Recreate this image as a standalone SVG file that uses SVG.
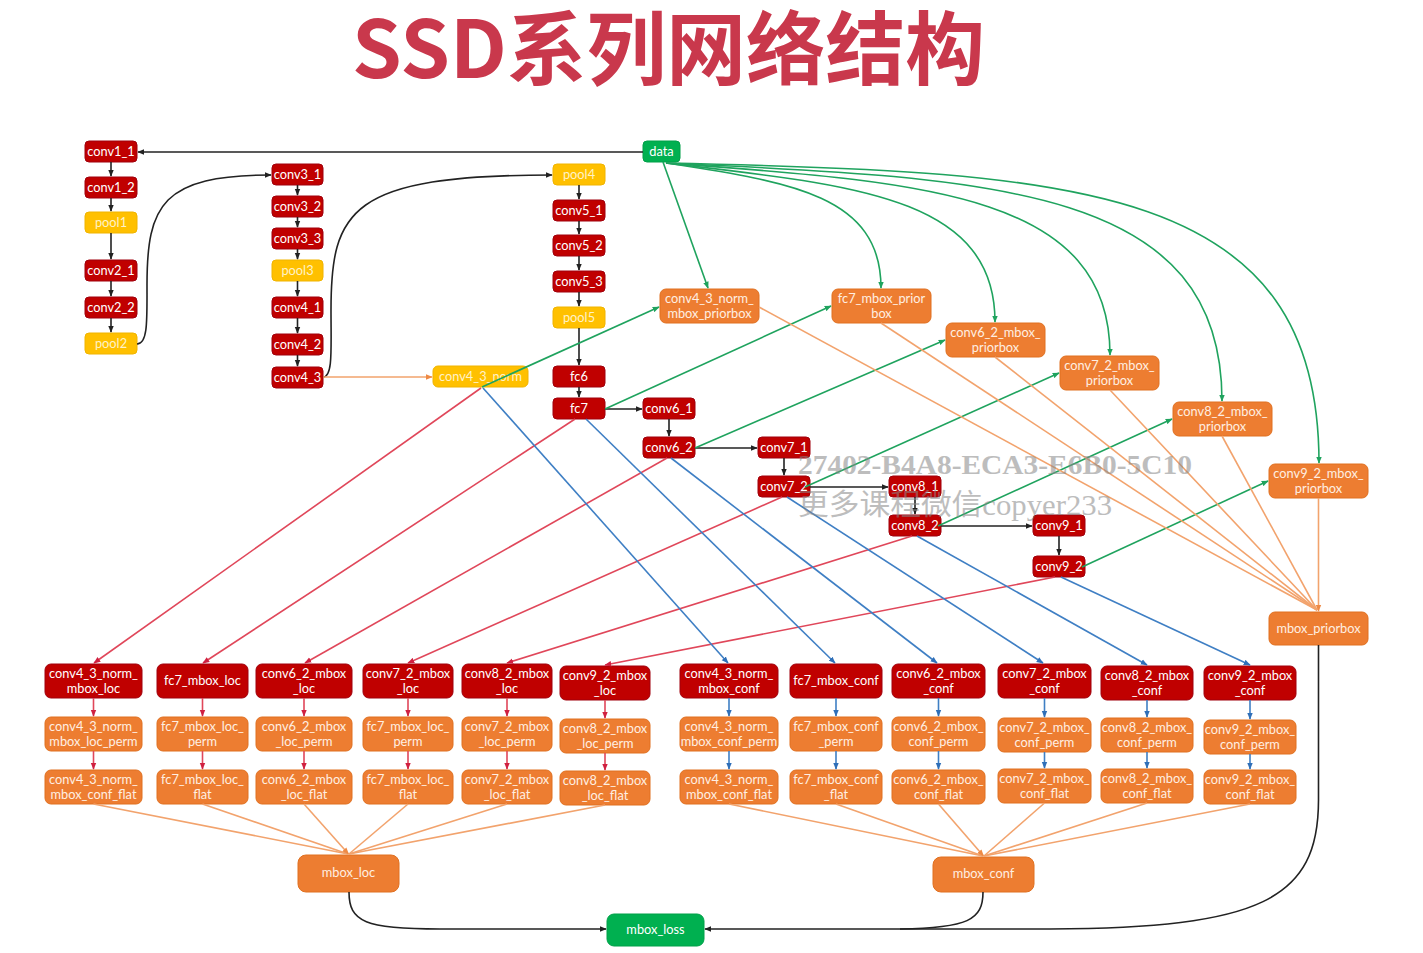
<svg xmlns="http://www.w3.org/2000/svg" width="1423" height="953" viewBox="0 0 1423 953">
<style>
text{font-family:Lato,"Open Sans","Liberation Sans",sans-serif;font-size:12.8px;text-anchor:middle;fill:#fff}
.r rect{fill:#C00000;stroke:#A0000C;stroke-width:1}
.y rect{fill:#FFC000;stroke:#F0B400;stroke-width:1}
.y text{fill:#FFF2C8}
.o rect{fill:#ED7D31;stroke:#E07020;stroke-width:1}
.o text{fill:#FFEFE2}
.g rect{fill:#00B050;stroke:#00A048;stroke-width:1}
#connectors path{fill:none;stroke-width:1.6}
.k{stroke:#222}
.gr{stroke:#1FA35E}
.rd{stroke:#E0475A}
.bl{stroke:#3F7FC4}
.or{stroke:#F2A36D}
</style>
<defs>
<marker id="ak" viewBox="0 0 10 10" refX="9" refY="5" markerWidth="7" markerHeight="7" markerUnits="userSpaceOnUse" orient="auto"><path d="M0,1 L10,5 L0,9 z" fill="#222"/></marker>
<marker id="ag" viewBox="0 0 10 10" refX="9" refY="5" markerWidth="7" markerHeight="7" markerUnits="userSpaceOnUse" orient="auto"><path d="M0,1 L10,5 L0,9 z" fill="#1FA35E"/></marker>
<marker id="ar" viewBox="0 0 10 10" refX="9" refY="5" markerWidth="7" markerHeight="7" markerUnits="userSpaceOnUse" orient="auto"><path d="M0,1 L10,5 L0,9 z" fill="#D02040"/></marker>
<marker id="ab" viewBox="0 0 10 10" refX="9" refY="5" markerWidth="7" markerHeight="7" markerUnits="userSpaceOnUse" orient="auto"><path d="M0,1 L10,5 L0,9 z" fill="#2F6FB8"/></marker>
<marker id="ao" viewBox="0 0 10 10" refX="9" refY="5" markerWidth="7" markerHeight="7" markerUnits="userSpaceOnUse" orient="auto"><path d="M0,1 L10,5 L0,9 z" fill="#EE8A45"/></marker>
</defs>
<rect width="1423" height="953" fill="#fff"/>
<text x="352" y="78" textLength="633" lengthAdjust="spacingAndGlyphs" style="font-family:'Noto Sans CJK SC','Noto Sans',sans-serif;font-size:80px;font-weight:bold;fill:#C9384C;text-anchor:start">SSD系列网络结构</text>

<!-- backbone column 1 -->
<g id="conv1_1" class="r"><rect x="85" y="141" width="52" height="21" rx="4"/><text x="111" y="156">conv1_1</text></g>
<g id="conv1_2" class="r"><rect x="85" y="177" width="52" height="21" rx="4"/><text x="111" y="192">conv1_2</text></g>
<g id="pool1" class="y"><rect x="85" y="212" width="52" height="21" rx="4"/><text x="111" y="227">pool1</text></g>
<g id="conv2_1" class="r"><rect x="85" y="260" width="52" height="21" rx="4"/><text x="111" y="275">conv2_1</text></g>
<g id="conv2_2" class="r"><rect x="85" y="297" width="52" height="21" rx="4"/><text x="111" y="312">conv2_2</text></g>
<g id="pool2" class="y"><rect x="85" y="333" width="52" height="21" rx="4"/><text x="111" y="348">pool2</text></g>
<!-- column 2 -->
<g id="conv3_1" class="r"><rect x="272" y="164" width="51" height="21" rx="4"/><text x="297.5" y="179">conv3_1</text></g>
<g id="conv3_2" class="r"><rect x="272" y="196" width="51" height="21" rx="4"/><text x="297.5" y="211">conv3_2</text></g>
<g id="conv3_3" class="r"><rect x="272" y="228" width="51" height="21" rx="4"/><text x="297.5" y="243">conv3_3</text></g>
<g id="pool3" class="y"><rect x="272" y="260" width="51" height="21" rx="4"/><text x="297.5" y="275">pool3</text></g>
<g id="conv4_1" class="r"><rect x="272" y="297" width="51" height="21" rx="4"/><text x="297.5" y="312">conv4_1</text></g>
<g id="conv4_2" class="r"><rect x="272" y="334" width="51" height="21" rx="4"/><text x="297.5" y="349">conv4_2</text></g>
<g id="conv4_3" class="r"><rect x="272" y="367" width="51" height="21" rx="4"/><text x="297.5" y="382">conv4_3</text></g>
<!-- column 3 -->
<g id="pool4" class="y"><rect x="553" y="164" width="52" height="21" rx="4"/><text x="579" y="179">pool4</text></g>
<g id="conv5_1" class="r"><rect x="553" y="200" width="52" height="21" rx="4"/><text x="579" y="215">conv5_1</text></g>
<g id="conv5_2" class="r"><rect x="553" y="235" width="52" height="21" rx="4"/><text x="579" y="250">conv5_2</text></g>
<g id="conv5_3" class="r"><rect x="553" y="271" width="52" height="21" rx="4"/><text x="579" y="286">conv5_3</text></g>
<g id="pool5" class="y"><rect x="553" y="307" width="52" height="21" rx="4"/><text x="579" y="322">pool5</text></g>
<g id="fc6" class="r"><rect x="553" y="366" width="52" height="21" rx="4"/><text x="579" y="381">fc6</text></g>
<g id="fc7" class="r"><rect x="553" y="398" width="52" height="21" rx="4"/><text x="579" y="413">fc7</text></g>
<g id="data" class="g"><rect x="643" y="141" width="37" height="21" rx="4"/><text x="661.5" y="156">data</text></g>
<g id="conv4_3_norm" class="y"><rect x="433" y="366" width="95" height="21" rx="5"/><text x="480.5" y="381">conv4_3_norm</text></g>
<g id="conv6_1" class="r"><rect x="643" y="398" width="52" height="21" rx="4"/><text x="669" y="413">conv6_1</text></g>
<g id="conv6_2" class="r"><rect x="643" y="437" width="52" height="21" rx="4"/><text x="669" y="452">conv6_2</text></g>
<g id="conv7_1" class="r"><rect x="758" y="437" width="52" height="21" rx="4"/><text x="784" y="452">conv7_1</text></g>
<g id="conv7_2" class="r"><rect x="758" y="476" width="52" height="21" rx="4"/><text x="784" y="491">conv7_2</text></g>
<g id="conv8_1" class="r"><rect x="889" y="476" width="52" height="21" rx="4"/><text x="915" y="491">conv8_1</text></g>
<g id="conv8_2" class="r"><rect x="889" y="515" width="52" height="21" rx="4"/><text x="915" y="530">conv8_2</text></g>
<g id="conv9_1" class="r"><rect x="1033" y="515" width="52" height="21" rx="4"/><text x="1059" y="530">conv9_1</text></g>
<g id="conv9_2" class="r"><rect x="1033" y="556" width="52" height="21" rx="4"/><text x="1059" y="571">conv9_2</text></g>

<!-- priorbox nodes -->
<g id="conv4_3_norm_mbox_priorbox" class="o"><rect x="660" y="289" width="99" height="34" rx="6"/><text x="709.5" y="303">conv4_3_norm_</text><text x="709.5" y="318">mbox_priorbox</text></g>
<g id="fc7_mbox_priorbox" class="o"><rect x="832" y="289" width="99" height="34" rx="6"/><text x="881.5" y="303">fc7_mbox_prior</text><text x="881.5" y="318">box</text></g>
<g id="conv6_2_mbox_priorbox" class="o"><rect x="946" y="323" width="99" height="34" rx="6"/><text x="995.5" y="337">conv6_2_mbox_</text><text x="995.5" y="352">priorbox</text></g>
<g id="conv7_2_mbox_priorbox" class="o"><rect x="1060" y="356" width="99" height="34" rx="6"/><text x="1109.5" y="370">conv7_2_mbox_</text><text x="1109.5" y="385">priorbox</text></g>
<g id="conv8_2_mbox_priorbox" class="o"><rect x="1173" y="402" width="99" height="34" rx="6"/><text x="1222.5" y="416">conv8_2_mbox_</text><text x="1222.5" y="431">priorbox</text></g>
<g id="conv9_2_mbox_priorbox" class="o"><rect x="1269" y="464" width="99" height="34" rx="6"/><text x="1318.5" y="478">conv9_2_mbox_</text><text x="1318.5" y="493">priorbox</text></g>
<g id="mbox_priorbox" class="o"><rect x="1269" y="612" width="99" height="33" rx="6"/><text x="1318.5" y="633">mbox_priorbox</text></g>

<!-- loc heads -->
<g id="conv4_3_norm_mbox_loc" class="r"><rect x="45" y="664" width="97" height="34" rx="6"/><text x="93.5" y="678">conv4_3_norm_</text><text x="93.5" y="693">mbox_loc</text></g>
<g id="fc7_mbox_loc" class="r"><rect x="157" y="664" width="91" height="34" rx="6"/><text x="202.5" y="685">fc7_mbox_loc</text></g>
<g id="conv6_2_mbox_loc" class="r"><rect x="256" y="664" width="96" height="34" rx="6"/><text x="304" y="678">conv6_2_mbox</text><text x="304" y="693">_loc</text></g>
<g id="conv7_2_mbox_loc" class="r"><rect x="363" y="664" width="90" height="34" rx="6"/><text x="408" y="678">conv7_2_mbox</text><text x="408" y="693">_loc</text></g>
<g id="conv8_2_mbox_loc" class="r"><rect x="462" y="664" width="90" height="34" rx="6"/><text x="507" y="678">conv8_2_mbox</text><text x="507" y="693">_loc</text></g>
<g id="conv9_2_mbox_loc" class="r"><rect x="560" y="666" width="90" height="34" rx="6"/><text x="605" y="680">conv9_2_mbox</text><text x="605" y="695">_loc</text></g>
<g id="loc_perm_1" class="o"><rect x="45" y="717" width="97" height="34" rx="6"/><text x="93.5" y="731">conv4_3_norm_</text><text x="93.5" y="746">mbox_loc_perm</text></g>
<g id="loc_perm_2" class="o"><rect x="157" y="717" width="91" height="34" rx="6"/><text x="202.5" y="731">fc7_mbox_loc_</text><text x="202.5" y="746">perm</text></g>
<g id="loc_perm_3" class="o"><rect x="256" y="717" width="96" height="34" rx="6"/><text x="304" y="731">conv6_2_mbox</text><text x="304" y="746">_loc_perm</text></g>
<g id="loc_perm_4" class="o"><rect x="363" y="717" width="90" height="34" rx="6"/><text x="408" y="731">fc7_mbox_loc_</text><text x="408" y="746">perm</text></g>
<g id="loc_perm_5" class="o"><rect x="462" y="717" width="90" height="34" rx="6"/><text x="507" y="731">conv7_2_mbox</text><text x="507" y="746">_loc_perm</text></g>
<g id="loc_perm_6" class="o"><rect x="560" y="719" width="90" height="34" rx="6"/><text x="605" y="733">conv8_2_mbox</text><text x="605" y="748">_loc_perm</text></g>
<g id="loc_flat_1" class="o"><rect x="45" y="770" width="97" height="34" rx="6"/><text x="93.5" y="784">conv4_3_norm_</text><text x="93.5" y="799">mbox_conf_flat</text></g>
<g id="loc_flat_2" class="o"><rect x="157" y="770" width="91" height="34" rx="6"/><text x="202.5" y="784">fc7_mbox_loc_</text><text x="202.5" y="799">flat</text></g>
<g id="loc_flat_3" class="o"><rect x="256" y="770" width="96" height="34" rx="6"/><text x="304" y="784">conv6_2_mbox</text><text x="304" y="799">_loc_flat</text></g>
<g id="loc_flat_4" class="o"><rect x="363" y="770" width="90" height="34" rx="6"/><text x="408" y="784">fc7_mbox_loc_</text><text x="408" y="799">flat</text></g>
<g id="loc_flat_5" class="o"><rect x="462" y="770" width="90" height="34" rx="6"/><text x="507" y="784">conv7_2_mbox</text><text x="507" y="799">_loc_flat</text></g>
<g id="loc_flat_6" class="o"><rect x="560" y="771" width="90" height="34" rx="6"/><text x="605" y="785">conv8_2_mbox</text><text x="605" y="800">_loc_flat</text></g>

<!-- conf heads -->
<g id="conv4_3_norm_mbox_conf" class="r"><rect x="680" y="664" width="98" height="34" rx="6"/><text x="729" y="678">conv4_3_norm_</text><text x="729" y="693">mbox_conf</text></g>
<g id="fc7_mbox_conf" class="r"><rect x="790" y="664" width="92" height="34" rx="6"/><text x="836" y="685">fc7_mbox_conf</text></g>
<g id="conv6_2_mbox_conf" class="r"><rect x="892" y="664" width="93" height="34" rx="6"/><text x="938.5" y="678">conv6_2_mbox</text><text x="938.5" y="693">_conf</text></g>
<g id="conv7_2_mbox_conf" class="r"><rect x="998" y="664" width="93" height="34" rx="6"/><text x="1044.5" y="678">conv7_2_mbox</text><text x="1044.5" y="693">_conf</text></g>
<g id="conv8_2_mbox_conf" class="r"><rect x="1101" y="666" width="92" height="34" rx="6"/><text x="1147" y="680">conv8_2_mbox</text><text x="1147" y="695">_conf</text></g>
<g id="conv9_2_mbox_conf" class="r"><rect x="1204" y="666" width="92" height="34" rx="6"/><text x="1250" y="680">conv9_2_mbox</text><text x="1250" y="695">_conf</text></g>
<g id="conf_perm_1" class="o"><rect x="680" y="717" width="98" height="34" rx="6"/><text x="729" y="731">conv4_3_norm_</text><text x="729" y="746">mbox_conf_perm</text></g>
<g id="conf_perm_2" class="o"><rect x="790" y="717" width="92" height="34" rx="6"/><text x="836" y="731">fc7_mbox_conf</text><text x="836" y="746">_perm</text></g>
<g id="conf_perm_3" class="o"><rect x="892" y="717" width="93" height="34" rx="6"/><text x="938.5" y="731">conv6_2_mbox_</text><text x="938.5" y="746">conf_perm</text></g>
<g id="conf_perm_4" class="o"><rect x="998" y="718" width="93" height="34" rx="6"/><text x="1044.5" y="732">conv7_2_mbox_</text><text x="1044.5" y="747">conf_perm</text></g>
<g id="conf_perm_5" class="o"><rect x="1101" y="718" width="92" height="34" rx="6"/><text x="1147" y="732">conv8_2_mbox_</text><text x="1147" y="747">conf_perm</text></g>
<g id="conf_perm_6" class="o"><rect x="1204" y="720" width="92" height="34" rx="6"/><text x="1250" y="734">conv9_2_mbox_</text><text x="1250" y="749">conf_perm</text></g>
<g id="conf_flat_1" class="o"><rect x="680" y="770" width="98" height="34" rx="6"/><text x="729" y="784">conv4_3_norm_</text><text x="729" y="799">mbox_conf_flat</text></g>
<g id="conf_flat_2" class="o"><rect x="790" y="770" width="92" height="34" rx="6"/><text x="836" y="784">fc7_mbox_conf</text><text x="836" y="799">_flat</text></g>
<g id="conf_flat_3" class="o"><rect x="892" y="770" width="93" height="34" rx="6"/><text x="938.5" y="784">conv6_2_mbox_</text><text x="938.5" y="799">conf_flat</text></g>
<g id="conf_flat_4" class="o"><rect x="998" y="769" width="93" height="34" rx="6"/><text x="1044.5" y="783">conv7_2_mbox_</text><text x="1044.5" y="798">conf_flat</text></g>
<g id="conf_flat_5" class="o"><rect x="1101" y="769" width="92" height="34" rx="6"/><text x="1147" y="783">conv8_2_mbox_</text><text x="1147" y="798">conf_flat</text></g>
<g id="conf_flat_6" class="o"><rect x="1204" y="770" width="92" height="34" rx="6"/><text x="1250" y="784">conv9_2_mbox_</text><text x="1250" y="799">conf_flat</text></g>

<g id="mbox_loc" class="o"><rect x="298" y="855" width="101" height="37" rx="8"/><text x="348.5" y="877">mbox_loc</text></g>
<g id="mbox_conf" class="o"><rect x="933" y="857" width="101" height="35" rx="8"/><text x="983.5" y="878">mbox_conf</text></g>
<g id="mbox_loss" class="g"><rect x="607" y="914" width="97" height="32" rx="7"/><text x="655.5" y="934">mbox_loss</text></g>

<g id="connectors">
<path class="k" d="M643,152 L138,152" marker-end="url(#ak)"/>
<path class="k" d="M111,162 V176" marker-end="url(#ak)"/>
<path class="k" d="M111,198 V211" marker-end="url(#ak)"/>
<path class="k" d="M111,233 V259" marker-end="url(#ak)"/>
<path class="k" d="M111,281 V296" marker-end="url(#ak)"/>
<path class="k" d="M111,318 V332" marker-end="url(#ak)"/>
<path class="k" d="M137,344 C148,344 147,320 147,285 C147,205 162,175 271,175" marker-end="url(#ak)"/>
<path class="k" d="M297.5,185 V195" marker-end="url(#ak)"/>
<path class="k" d="M297.5,217 V227" marker-end="url(#ak)"/>
<path class="k" d="M297.5,249 V259" marker-end="url(#ak)"/>
<path class="k" d="M297.5,281 V296" marker-end="url(#ak)"/>
<path class="k" d="M297.5,318 V333" marker-end="url(#ak)"/>
<path class="k" d="M297.5,355 V366" marker-end="url(#ak)"/>
<path class="k" d="M323,377 C333,377 331,350 331,310 C331,210 350,175 552,175" marker-end="url(#ak)"/>
<path class="k" d="M579,185 V199" marker-end="url(#ak)"/>
<path class="k" d="M579,221 V234" marker-end="url(#ak)"/>
<path class="k" d="M579,256 V270" marker-end="url(#ak)"/>
<path class="k" d="M579,292 V306" marker-end="url(#ak)"/>
<path class="k" d="M579,328 V365" marker-end="url(#ak)"/>
<path class="k" d="M579,387 V397" marker-end="url(#ak)"/>
<path class="k" d="M605,409 H642" marker-end="url(#ak)"/>
<path class="k" d="M669,419 V436" marker-end="url(#ak)"/>
<path class="k" d="M695,448 H757" marker-end="url(#ak)"/>
<path class="k" d="M784,458 V475" marker-end="url(#ak)"/>
<path class="k" d="M810,487 H888" marker-end="url(#ak)"/>
<path class="k" d="M915,497 V514" marker-end="url(#ak)"/>
<path class="k" d="M941,526 H1032" marker-end="url(#ak)"/>
<path class="k" d="M1059,536 V555" marker-end="url(#ak)"/>
<path class="or" d="M323,377 H432" marker-end="url(#ao)"/>
<path class="gr" d="M663,162 L708,288" marker-end="url(#ag)"/>
<path class="gr" d="M666,163 C790,182 881,195 881,288" marker-end="url(#ag)"/>
<path class="gr" d="M666,163 C850,185 995,195 995,322" marker-end="url(#ag)"/>
<path class="gr" d="M666,163 C920,182 1110,192 1110,355" marker-end="url(#ag)"/>
<path class="gr" d="M666,163 C1000,178 1222,188 1222,401" marker-end="url(#ag)"/>
<path class="gr" d="M666,163 C1080,172 1319,184 1319,463" marker-end="url(#ag)"/>
<path class="gr" d="M482,387 L659,307" marker-end="url(#ag)"/>
<path class="gr" d="M605,409 L831,306" marker-end="url(#ag)"/>
<path class="gr" d="M695,448 L945,340" marker-end="url(#ag)"/>
<path class="gr" d="M805,487 L1059,373" marker-end="url(#ag)"/>
<path class="gr" d="M938,526 L1172,419" marker-end="url(#ag)"/>
<path class="gr" d="M1082,567 L1268,481" marker-end="url(#ag)"/>
<path class="or" d="M759,307 L1317,610"/>
<path class="or" d="M881,323 L1317,610"/>
<path class="or" d="M995,357 L1317,610"/>
<path class="or" d="M1110,390 L1317,610"/>
<path class="or" d="M1222,436 L1317,610"/>
<path class="or" d="M1318.5,498 V611" marker-end="url(#ao)"/>
<path class="rd" d="M481,388 L94,663" marker-end="url(#ar)"/>
<path class="rd" d="M575,419 L203,663" marker-end="url(#ar)"/>
<path class="rd" d="M667,458 L305,663" marker-end="url(#ar)"/>
<path class="rd" d="M782,497 L408,663" marker-end="url(#ar)"/>
<path class="rd" d="M912,536 L507,663" marker-end="url(#ar)"/>
<path class="rd" d="M1055,577 L605,665" marker-end="url(#ar)"/>
<path class="bl" d="M483,388 L728,663" marker-end="url(#ab)"/>
<path class="bl" d="M586,419 L835,663" marker-end="url(#ab)"/>
<path class="bl" d="M671,458 L937,663" marker-end="url(#ab)"/>
<path class="bl" d="M787,497 L1043,663" marker-end="url(#ab)"/>
<path class="bl" d="M917,536 L1147,665" marker-end="url(#ab)"/>
<path class="bl" d="M1061,577 L1250,665" marker-end="url(#ab)"/>
<path class="rd" d="M93.5,698 V716" marker-end="url(#ar)"/>
<path class="rd" d="M202.5,698 V716" marker-end="url(#ar)"/>
<path class="rd" d="M304,698 V716" marker-end="url(#ar)"/>
<path class="rd" d="M408,698 V716" marker-end="url(#ar)"/>
<path class="rd" d="M507,698 V716" marker-end="url(#ar)"/>
<path class="rd" d="M605,700 V718" marker-end="url(#ar)"/>
<path class="rd" d="M93.5,751 V769" marker-end="url(#ar)"/>
<path class="rd" d="M202.5,751 V769" marker-end="url(#ar)"/>
<path class="rd" d="M304,751 V769" marker-end="url(#ar)"/>
<path class="rd" d="M408,751 V769" marker-end="url(#ar)"/>
<path class="rd" d="M507,751 V769" marker-end="url(#ar)"/>
<path class="rd" d="M605,753 V770" marker-end="url(#ar)"/>
<path class="bl" d="M729,698 V716" marker-end="url(#ab)"/>
<path class="bl" d="M836,698 V716" marker-end="url(#ab)"/>
<path class="bl" d="M938.5,698 V716" marker-end="url(#ab)"/>
<path class="bl" d="M1044.5,698 V717" marker-end="url(#ab)"/>
<path class="bl" d="M1147,700 V717" marker-end="url(#ab)"/>
<path class="bl" d="M1250,700 V719" marker-end="url(#ab)"/>
<path class="bl" d="M729,751 V769" marker-end="url(#ab)"/>
<path class="bl" d="M836,751 V769" marker-end="url(#ab)"/>
<path class="bl" d="M938.5,751 V769" marker-end="url(#ab)"/>
<path class="bl" d="M1044.5,752 V768" marker-end="url(#ab)"/>
<path class="bl" d="M1147,752 V768" marker-end="url(#ab)"/>
<path class="bl" d="M1250,754 V769" marker-end="url(#ab)"/>
<path class="or" d="M93.5,804 L348,854"/>
<path class="or" d="M202.5,804 L348,854"/>
<path class="or" d="M304,804 L348.5,854" marker-end="url(#ao)"/>
<path class="or" d="M408,804 L349,854"/>
<path class="or" d="M507,804 L349,854"/>
<path class="or" d="M605,805 L349,854"/>
<path class="or" d="M729,804 L983,856"/>
<path class="or" d="M836,804 L983,856"/>
<path class="or" d="M938.5,804 L983.5,856" marker-end="url(#ao)"/>
<path class="or" d="M1044.5,803 L984,856"/>
<path class="or" d="M1147,803 L984,856"/>
<path class="or" d="M1250,804 L984,856"/>
<path class="k" d="M349,892 C349,922 365,929 440,929 L606,929" marker-end="url(#ak)"/>
<path class="k" d="M983,892 C983,920 968,928 900,929 L705,929" marker-end="url(#ak)"/>
<path class="k" d="M1318.5,645 L1318.5,800 C1318.5,900 1260,928 1050,929 L900,929"/>
</g>

<g id="watermark" opacity="0.55">
<text x="798" y="474" textLength="394" lengthAdjust="spacingAndGlyphs" style="font-family:'Liberation Serif','Noto Sans CJK SC',serif;font-size:27px;font-weight:bold;fill:#888;text-anchor:start">27402-B4A8-ECA3-E6B0-5C10</text>
<text x="798" y="515" textLength="314" lengthAdjust="spacingAndGlyphs" style="font-family:'Liberation Serif','Noto Sans CJK SC',serif;font-size:29px;fill:#888;text-anchor:start">更多课程微信copyer233</text>
</g>
</svg>
